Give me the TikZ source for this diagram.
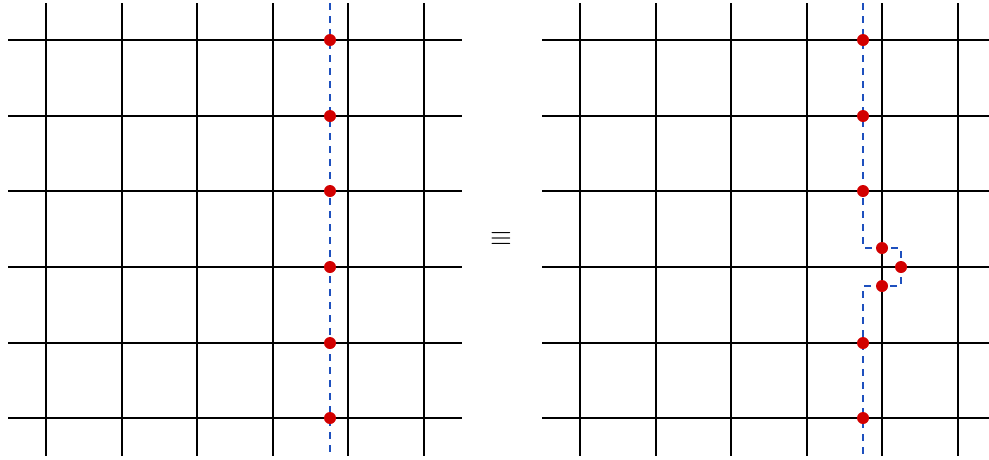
\documentclass[tikz,border=0pt]{standalone}
\usepackage{amsmath}
\definecolor{dotred}{RGB}{210,0,0}
\definecolor{cutblue}{RGB}{30,80,190}
\tikzset{
  gridline/.style={line width=2pt, black},
  cutline/.style={line width=2pt, cutblue, dash pattern=on 7pt off 6pt},
  dot/.style={circle, fill=dotred, inner sep=0pt, minimum size=12pt},
}
\begin{document}
\begin{tikzpicture}[x=1pt,y=-1pt]
\useasboundingbox (0,0) rectangle (989,459);
% left grid
\foreach \x in {46,122,197,273,348,424} \draw[gridline] (\x,3) -- (\x,456);
\foreach \y in {40,116,191,267,343,418} \draw[gridline] (8,\y) -- (462,\y);
% right grid
\foreach \x in {580,656,731,807,882,958} \draw[gridline] (\x,3) -- (\x,456);
\foreach \y in {40,116,191,267,343,418} \draw[gridline] (542,\y) -- (989,\y);
% left cut
\coordinate (lt) at (330,3);
\coordinate (lb) at (330,456);
\draw[cutline] (lt) -- (lb);
\foreach \y [count=\i] in {40,116,191,267,343,418} \node[dot] (l\i) at (330,\y) {};
% right cut
\coordinate (rt) at (863,3);
\coordinate (c1) at (863,248);
\coordinate (c2) at (901,248);
\coordinate (c3) at (901,286);
\coordinate (c4) at (863,286);
\coordinate (rb) at (863,456);
\draw[cutline] (rt) -- (c1) -- (c2) -- (c3) -- (c4) -- (rb);
\foreach \y [count=\i] in {40,116,191,343,418} \node[dot] (r\i) at (863,\y) {};
\node[dot] (m1) at (882,248) {};
\node[dot] (m2) at (901,267) {};
\node[dot] (m3) at (882,286) {};
% equivalence
\node[scale=2.8, inner sep=0pt] (eq) at (501,239) {$\equiv$};
\end{tikzpicture}
\end{document}
